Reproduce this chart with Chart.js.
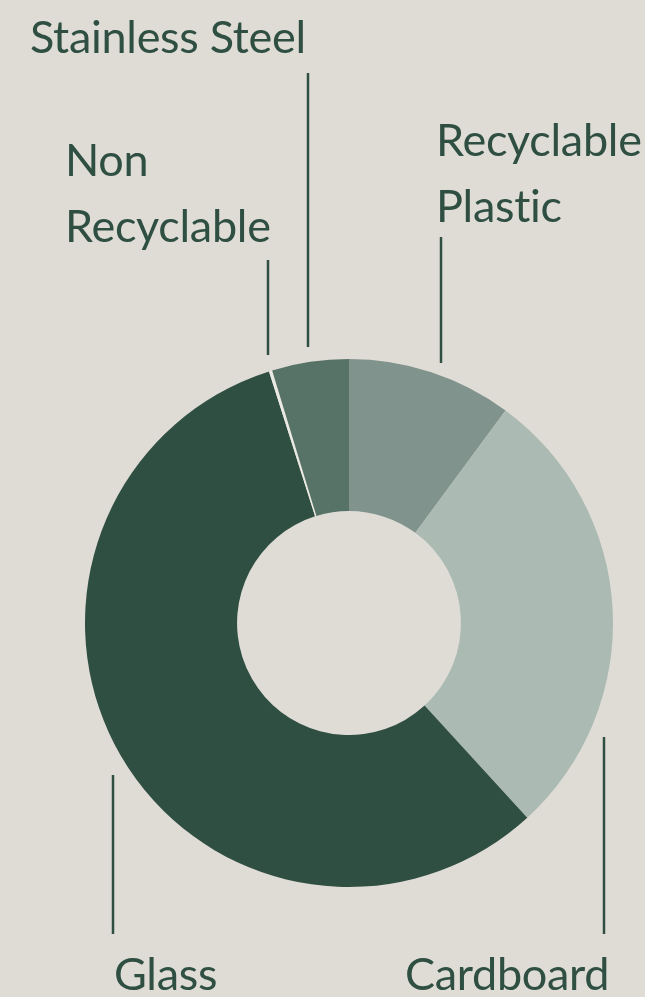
<!DOCTYPE html>
<html>
<head>
<meta charset="utf-8">
<script src="https://cdn.jsdelivr.net/npm/chart.js@4.4.1/dist/chart.umd.min.js"></script>
<style>
  html, body { margin: 0; padding: 0; background: #dfdcd6; }
  #wrap { width: 645px; height: 997px; position: relative; }
</style>
</head>
<body>
<div id="wrap"><canvas id="wasteChart"></canvas></div>
<script>
// material share, clockwise from 12 o'clock (percent)
const materials = ["Recyclable Plastic", "Cardboard", "Glass", "Non Recyclable", "Stainless Steel"];
const shares = [10.1, 28.1, 56.9, 0.2, 4.7];
const sliceColors = ["#80938c", "#abbab3", "#304f43", "#ebe9e3", "#577267"];

const INK = "#2f4f43";

// label text lines + leader line placement (pixels on the page)
const calloutLayout = [
  { lines: ["Recyclable", "Plastic"], x: 436, y: 156, line: [441, 237, 363] },
  { lines: ["Cardboard"], x: 405, y: 990, line: [604, 737, 934] },
  { lines: ["Glass"], x: 114, y: 990, line: [113, 775, 934] },
  { lines: ["Non", "Recyclable"], x: 65, y: 176, line: [268, 260, 355] },
  { lines: ["Stainless Steel"], x: 30, y: 53, line: [308, 73, 347] },
];

const callouts = {
  id: "callouts",
  afterDraw(chart) {
    const ctx = chart.ctx;
    ctx.save();
    ctx.fillStyle = INK;
    ctx.strokeStyle = INK;
    ctx.lineWidth = 2.5;
    ctx.font = "45px Lato";
    ctx.letterSpacing = "-0.3px";
    ctx.textBaseline = "alphabetic";
    calloutLayout.forEach((c) => {
      c.lines.forEach((t, i) => ctx.fillText(t, c.x, c.y + i * 66));
      const [lx, y0, y1] = c.line;
      ctx.beginPath();
      ctx.moveTo(lx, y0);
      ctx.lineTo(lx, y1);
      ctx.stroke();
    });
    ctx.restore();
  },
};

new Chart(document.getElementById("wasteChart"), {
  type: "doughnut",
  data: {
    labels: materials,
    datasets: [
      {
        data: shares,
        backgroundColor: sliceColors,
        borderWidth: 0,
        hoverOffset: 0,
      },
    ],
  },
  options: {
    responsive: true,
    maintainAspectRatio: false,
    animation: false,
    cutout: "42.4%",
    layout: {
      padding: { left: 85, right: 32, top: 359, bottom: 110 },
    },
    plugins: {
      legend: { display: false },
      tooltip: { enabled: false },
    },
  },
  plugins: [callouts],
});
</script>
</body>
</html>
